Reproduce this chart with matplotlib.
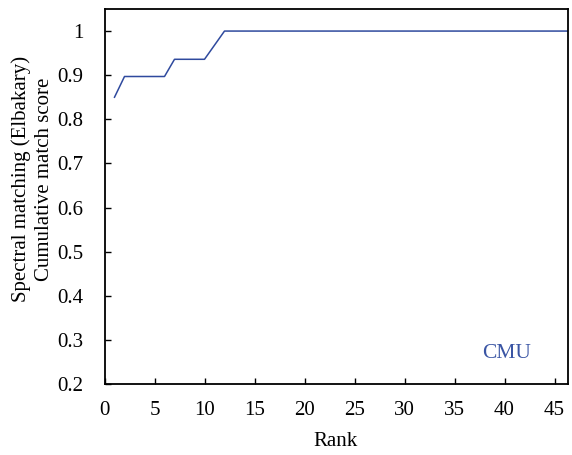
import matplotlib
matplotlib.use('Agg')
import matplotlib.pyplot as plt

# cumulative match score per rank
ranks = list(range(1, 48))
scores = [0.85, 0.897, 0.897, 0.897, 0.897, 0.897, 0.936, 0.936, 0.936, 0.936, 0.968] + [1.0] * 36

xticks = [0, 5, 10, 15, 20, 25, 30, 35, 40, 45]
yticks = [0.2, 0.3, 0.4, 0.5, 0.6, 0.7, 0.8, 0.9, 1.0]
ytick_labels = ['0.2', '0.3', '0.4', '0.5', '0.6', '0.7', '0.8', '0.9', '1']

plt.rcParams['font.family'] = ['Liberation Serif', 'DejaVu Serif']
plt.rcParams['font.size'] = 15

fig = plt.figure(figsize=(5.72, 4.55), dpi=100)
ax = fig.add_axes([104.5 / 572, 1 - 384 / 455, (567.5 - 104.5) / 572, (384 - 9) / 455])

ax.plot(ranks, scores, color='#2F4A9E', linewidth=1.1)
ax.text(40.2, 0.268, 'CMU', color='#3A55A4', fontsize=15.5, ha='center', va='center')

ax.set_xlim(0, 46.3)
ax.set_ylim(0.2, 1.05)
ax.set_xticks(xticks)
ax.set_yticks(yticks)
ax.set_yticklabels(ytick_labels)
ax.tick_params(direction='in', length=4, width=1)
ax.tick_params(axis='x', pad=12)
ax.tick_params(axis='y', pad=15)
for s in ax.spines.values():
    s.set_linewidth(1.3)

ax.set_xlabel('Rank', labelpad=9)
ax.set_ylabel('Spectral matching (Elbakary)\nCumulative match score', linespacing=1.3)
ax.yaxis.set_label_coords(-0.108, 0.547)

fig.savefig('out.png', dpi=100)
